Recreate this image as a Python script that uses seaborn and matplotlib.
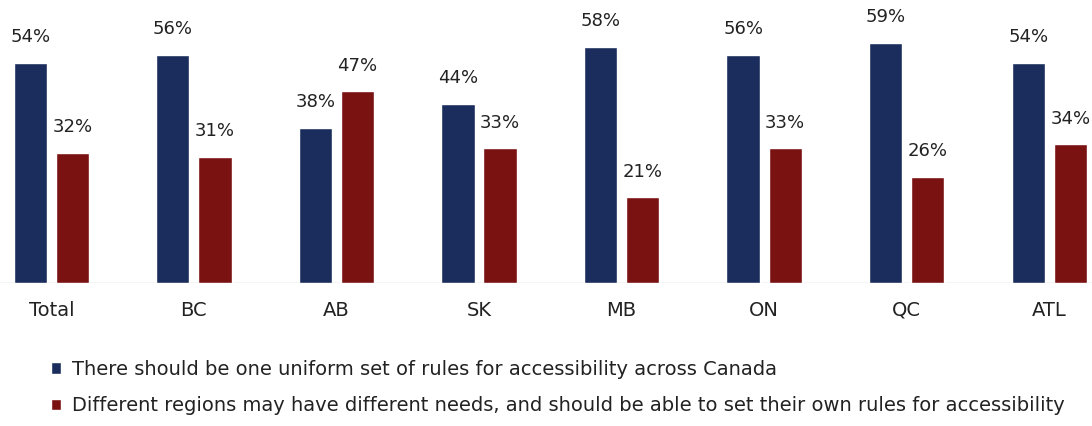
import matplotlib
matplotlib.use("Agg")
import matplotlib.pyplot as plt
import seaborn as sns
import pandas as pd

categories = ["Total", "BC", "AB", "SK", "MB", "ON", "QC", "ATL"]
uniform = [54, 56, 38, 44, 58, 56, 59, 54]
regional = [32, 31, 47, 33, 21, 33, 26, 34]
series_names = [
    "There should be one uniform set of rules for accessibility across Canada",
    "Different regions may have different needs, and should be able to set their own rules for accessibility",
]
colors = ["#1B2D5C", "#7A1212"]

df = pd.DataFrame({
    "region": categories * 2,
    "value": uniform + regional,
    "series": [series_names[0]] * len(categories) + [series_names[1]] * len(categories),
})

sns.set_theme(style="white")
plt.rcParams["font.family"] = ["DejaVu Sans"]

fig = plt.figure(figsize=(10.92, 4.26), dpi=100)
ax = fig.add_axes([0.0, 0.336, 1.0, 0.65])

sns.barplot(data=df, x="region", y="value", hue="series", order=categories,
            hue_order=series_names, palette=colors, width=0.59, gap=0.21,
            saturation=1, ax=ax, legend=True)

for cont in ax.containers:
    ax.bar_label(cont, labels=[f"{v:.0f}%" for v in cont.datavalues],
                 padding=12, fontsize=13, color="#222222")

ax.set_xlim(-0.36, 7.3)
ax.set_ylim(0, 68)
ax.axhline(0, color="#cfcfcf", lw=1, zorder=0)
for s in ax.spines.values():
    s.set_visible(False)
ax.set_yticks([])
ax.set_xlabel("")
ax.set_ylabel("")
ax.tick_params(axis="x", length=0, pad=13, labelsize=14, labelcolor="#222222")

handles, labels = ax.get_legend_handles_labels()
ax.get_legend().remove()
fig.legend(handles, labels, loc="center left", bbox_to_anchor=(0.031, 0.09),
           bbox_transform=fig.transFigure, frameon=False, fontsize=14,
           handlelength=0.5, handleheight=0.5, handletextpad=0.55,
           labelspacing=0.9, labelcolor="#222222")

fig.savefig("out.png", dpi=100)
